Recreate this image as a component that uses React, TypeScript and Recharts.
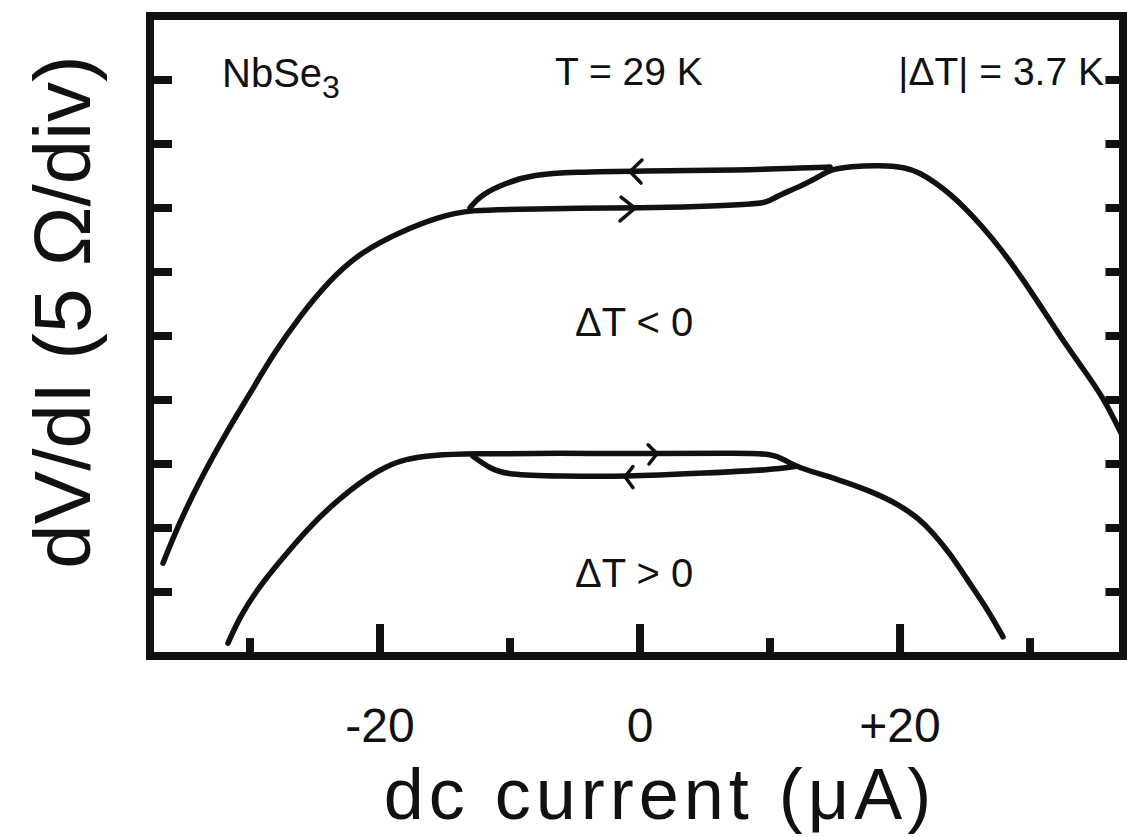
import React from 'react';
import { LineChart, Line, XAxis, YAxis, ReferenceArea, ReferenceLine, Customized } from 'recharts';

// dc current (uA) on x, dV/dI in divisions (5 ohm/div) on y
const xDomain: [number, number] = [-37.69, 37.15];
const yDomain: [number, number] = [0, 10];

const xLabelTicks = [-20, 0, 20];
const majorXTicks = [-20, 0, 20];
const minorXTicks = [-30, -10, 10, 30];
const yDivTicks = [1, 2, 3, 4, 5, 6, 7, 8, 9];

// dT < 0 : rise, forward branch, step up, plateau, fall
const coldOutline = [
  { x: -36.69, y: 1.45 }, { x: -35.5, y: 2.05 }, { x: -33.85, y: 2.75 }, { x: -31.8, y: 3.5 },
  { x: -30.0, y: 4.1 }, { x: -28.2, y: 4.72 }, { x: -26.2, y: 5.3 }, { x: -23.85, y: 5.88 },
  { x: -21.54, y: 6.3 }, { x: -18.46, y: 6.63 }, { x: -15.38, y: 6.87 }, { x: -13.08, y: 6.97 },
  { x: -9.23, y: 6.98 }, { x: -4.62, y: 7.0 }, { x: 0, y: 7.0 }, { x: 4.62, y: 7.02 },
  { x: 7.69, y: 7.05 }, { x: 9.85, y: 7.08 }, { x: 10.38, y: 7.17 }, { x: 11.54, y: 7.27 },
  { x: 12.85, y: 7.39 }, { x: 13.85, y: 7.5 }, { x: 14.62, y: 7.6 }, { x: 16.15, y: 7.65 },
  { x: 18.46, y: 7.67 }, { x: 20.38, y: 7.64 }, { x: 21.54, y: 7.55 }, { x: 22.69, y: 7.4 },
  { x: 23.85, y: 7.22 }, { x: 25.0, y: 7.0 }, { x: 26.15, y: 6.75 }, { x: 27.69, y: 6.38 },
  { x: 29.23, y: 5.95 }, { x: 30.77, y: 5.48 }, { x: 32.31, y: 5.0 }, { x: 33.85, y: 4.55 },
  { x: 35.62, y: 4.05 }, { x: 37.08, y: 3.45 },
];

// dT < 0 : return branch (sweeping down)
const coldReturn = [
  { x: -13.08, y: 7.0 }, { x: -12.31, y: 7.2 }, { x: -10.23, y: 7.4 }, { x: -8.23, y: 7.52 },
  { x: -5.15, y: 7.56 }, { x: 0, y: 7.58 }, { x: 7.69, y: 7.59 }, { x: 12.85, y: 7.63 },
  { x: 14.62, y: 7.64 },
];

// dT > 0 : rise, forward branch, fall
const hotOutline = [
  { x: -31.69, y: 0.2 }, { x: -30.77, y: 0.62 }, { x: -29.23, y: 1.1 }, { x: -27.69, y: 1.48 },
  { x: -25.62, y: 1.98 }, { x: -23.08, y: 2.48 }, { x: -20.0, y: 2.93 }, { x: -18.08, y: 3.08 },
  { x: -15.92, y: 3.14 }, { x: -13.08, y: 3.16 }, { x: -6.15, y: 3.17 }, { x: 1.15, y: 3.16 },
  { x: 7.69, y: 3.17 }, { x: 10.23, y: 3.16 }, { x: 11.15, y: 3.06 }, { x: 11.92, y: 2.96 },
  { x: 15.38, y: 2.75 }, { x: 17.69, y: 2.58 }, { x: 20.0, y: 2.36 }, { x: 21.54, y: 2.13 },
  { x: 22.54, y: 1.92 }, { x: 23.85, y: 1.6 }, { x: 25.15, y: 1.2 }, { x: 26.15, y: 0.9 },
  { x: 26.92, y: 0.66 }, { x: 27.92, y: 0.3 },
];

// dT > 0 : return branch
const hotReturn = [
  { x: -12.85, y: 3.12 }, { x: -11.54, y: 2.93 }, { x: -10.23, y: 2.83 }, { x: -6.15, y: 2.81 },
  { x: -1.15, y: 2.8 }, { x: 5.15, y: 2.86 }, { x: 10.23, y: 2.91 }, { x: 11.92, y: 2.96 },
];

// sweep-direction arrowheads (arm, tip, arm)
const arrowColdReturn = [{ x: 0.15, y: 7.75 }, { x: -0.77, y: 7.57 }, { x: 0.08, y: 7.39 }];
const arrowColdForward = [{ x: -1.46, y: 7.17 }, { x: -0.38, y: 7.0 }, { x: -1.54, y: 6.8 }];
const arrowHotForward = [{ x: 0.62, y: 3.3 }, { x: 1.31, y: 3.16 }, { x: 0.69, y: 3.0 }];
const arrowHotReturn = [{ x: -0.54, y: 2.96 }, { x: -1.15, y: 2.8 }, { x: -0.54, y: 2.63 }];

const FONT = '"Liberation Sans", Arial, Helvetica, sans-serif';
const curves = [coldOutline, coldReturn, hotOutline, hotReturn];
const arrows = [arrowColdReturn, arrowColdForward, arrowHotForward, arrowHotReturn];

const renderXTick = (props: any) => {
  const { x, payload } = props;
  const v = payload.value;
  const txt = v > 0 ? `+${v}` : `${v}`;
  return (
    <text key={`t${v}`} x={x} y={742} textAnchor="middle" fontSize={48} fontFamily={FONT} fill="#111">
      {txt}
    </text>
  );
};

const Annotations = () => (
  <g fontFamily={FONT} fill="#111">
    <text x={222} y={87} fontSize={40}>
      NbSe<tspan fontSize={32} dy={11}>3</tspan>
    </text>
    <text x={555} y={85} fontSize={39}>T = 29 K</text>
    <text x={1104} y={85} fontSize={39} textAnchor="end">|ΔT| = 3.7 K</text>
    <text x={575} y={336} fontSize={40}>ΔT &lt; 0</text>
    <text x={575} y={587} fontSize={40}>ΔT &gt; 0</text>
    <text transform="rotate(-90)" x={-312} y={90} fontSize={80} textAnchor="middle">
      dV/dI (5 Ω/div)
    </text>
    <text x={660} y={819} fontSize={72} letterSpacing={5} textAnchor="middle">dc current (μA)</text>
  </g>
);

export default function App() {
  return (
    <div style={{ position: 'absolute', left: 0, top: 0, background: '#fff' }}>
      <LineChart width={1127} height={837} margin={{ top: 16, right: 4, bottom: 150, left: 150 }}>
        <XAxis
          type="number"
          dataKey="x"
          domain={xDomain}
          ticks={xLabelTicks}
          interval={0}
          axisLine={false}
          tickLine={false}
          height={31}
          tick={renderXTick}
          allowDataOverflow
        />
        <YAxis type="number" domain={yDomain} hide width={0} allowDataOverflow />
        <ReferenceArea x1={xDomain[0]} x2={xDomain[1]} y1={0} y2={10} fill="none" stroke="#111" strokeWidth={8} />
        {yDivTicks.map((v) => (
          <ReferenceLine key={`l${v}`} segment={[{ x: xDomain[0], y: v }, { x: -36.0, y: v }]} stroke="#111" strokeWidth={8} />
        ))}
        {yDivTicks.map((v) => (
          <ReferenceLine key={`r${v}`} segment={[{ x: 35.8, y: v }, { x: xDomain[1], y: v }]} stroke="#111" strokeWidth={8} />
        ))}
        {majorXTicks.map((v) => (
          <ReferenceLine key={`M${v}`} segment={[{ x: v, y: 0 }, { x: v, y: 0.5 }]} stroke="#111" strokeWidth={8} />
        ))}
        {minorXTicks.map((v) => (
          <ReferenceLine key={`m${v}`} segment={[{ x: v, y: 0 }, { x: v, y: 0.28 }]} stroke="#111" strokeWidth={8} />
        ))}
        {curves.map((d, i) => (
          <Line
            key={`c${i}`}
            data={d}
            dataKey="y"
            type="basis"
            stroke="#111"
            strokeWidth={5.5}
            strokeLinecap="round"
            dot={false}
            isAnimationActive={false}
          />
        ))}
        {arrows.map((d, i) => (
          <Line
            key={`a${i}`}
            data={d}
            dataKey="y"
            type="linear"
            stroke="#111"
            strokeWidth={3.5}
            strokeLinecap="round"
            dot={false}
            isAnimationActive={false}
          />
        ))}
        <Customized component={Annotations} />
      </LineChart>
    </div>
  );
}
